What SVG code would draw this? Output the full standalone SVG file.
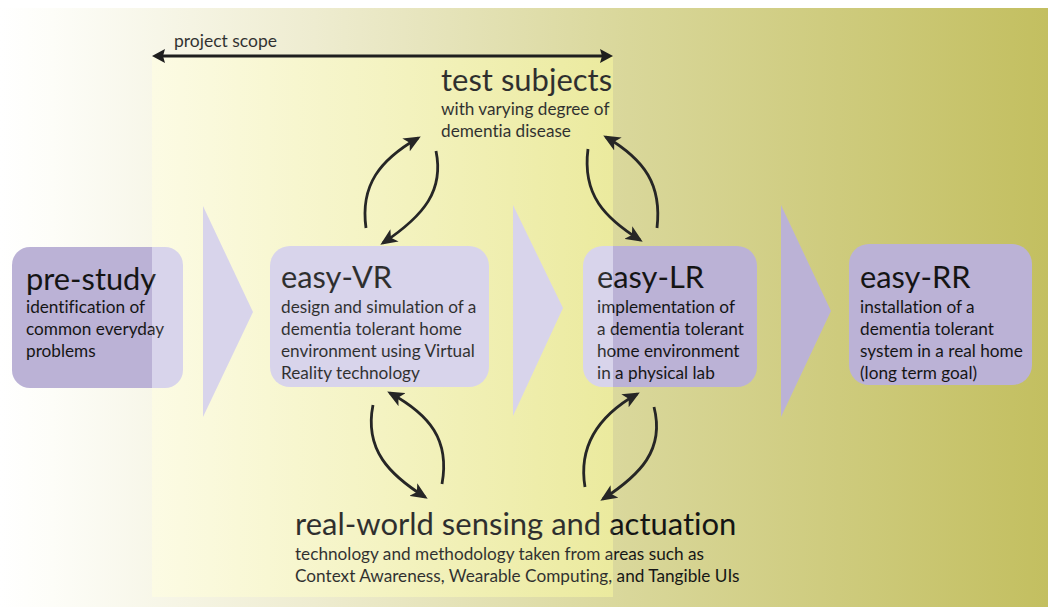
<svg xmlns="http://www.w3.org/2000/svg" width="1048" height="607" viewBox="0 0 1048 607">
<defs>
<style>
text{font-family:Lato,"Liberation Sans",sans-serif;fill:url(#txt);font-variant-ligatures:none}
.title{font-size:30.8px}
.big{font-size:31px}
.body{font-size:17.2px}
.small{font-size:17.5px}
.box{fill:url(#purp)}
.arr{fill:none;stroke:#262626;stroke-width:2.8;marker-end:url(#ah)}
</style>
<linearGradient id="bg" x1="0" y1="0" x2="1048" y2="0" gradientUnits="userSpaceOnUse">
<stop offset="0" stop-color="#ffffff"/>
<stop offset="0.05" stop-color="#fdfdf8"/>
<stop offset="0.3" stop-color="#eeecd0"/>
<stop offset="0.6" stop-color="#d9d79a"/>
<stop offset="1" stop-color="#c3bf60"/>
</linearGradient>
<linearGradient id="ov" x1="152" y1="0" x2="613" y2="0" gradientUnits="userSpaceOnUse">
<stop offset="0" stop-color="#fcfbe4"/>
<stop offset="0.5" stop-color="#f4f3c2"/>
<stop offset="1" stop-color="#ebea9e"/>
</linearGradient>
<linearGradient id="purp" x1="0" y1="0" x2="1048" y2="0" gradientUnits="userSpaceOnUse">
<stop offset="0.145" stop-color="#bbb2d6"/>
<stop offset="0.145" stop-color="#d8d4eb"/>
<stop offset="0.585" stop-color="#d8d4eb"/>
<stop offset="0.585" stop-color="#bbb2d6"/>
</linearGradient>
<linearGradient id="txt" x1="0" y1="0" x2="1048" y2="0" gradientUnits="userSpaceOnUse">
<stop offset="0.145" stop-color="#141414"/>
<stop offset="0.145" stop-color="#2e2e2e"/>
<stop offset="0.585" stop-color="#2e2e2e"/>
<stop offset="0.585" stop-color="#141414"/>
</linearGradient>
<marker id="ah" viewBox="0 0 16 14" refX="13" refY="7" markerWidth="17" markerHeight="15" markerUnits="userSpaceOnUse" orient="auto">
<path d="M0,0 L16,7 L0,14 L4,7 z" fill="#262626"/>
</marker>
</defs>

<g id="background">
<rect x="0" y="8" width="1048" height="599" fill="url(#bg)"/>
<rect x="152" y="57" width="461" height="540" fill="url(#ov)"/>
</g>

<g id="chevrons">
<polygon class="box" points="203,206 253,312 203,417"/>
<polygon class="box" points="513,205 563,308 513,416"/>
<polygon class="box" points="781,205 831,311 781,417"/>
</g>

<g id="project-scope">
<line x1="160" y1="56" x2="605" y2="56" stroke="#1e1e1e" stroke-width="3"/>
<polygon points="152,56 165,49 163,56 165,63" fill="#1e1e1e"/>
<polygon points="613,56 600,49 602,56 600,63" fill="#1e1e1e"/>
<text class="small" x="174" y="47">project scope</text>
</g>

<g id="pre-study">
<rect class="box" x="12" y="247" width="171" height="141" rx="18"/>
<text class="title" x="26" y="290">pre-study</text>
<text class="body" x="26" y="313">identification of</text>
<text class="body" x="26" y="335">common everyday</text>
<text class="body" x="26" y="357">problems</text>
</g>

<g id="easy-VR">
<rect class="box" x="270" y="246" width="219" height="141" rx="20"/>
<text class="title" x="281" y="288">easy-VR</text>
<text class="body" x="281" y="313">design and simulation of a</text>
<text class="body" x="281" y="335">dementia tolerant home</text>
<text class="body" x="281" y="357">environment using Virtual</text>
<text class="body" x="281" y="379">Reality technology</text>
</g>

<g id="easy-LR">
<rect class="box" x="583" y="246" width="174" height="141" rx="20"/>
<text class="title" x="597" y="288">easy-LR</text>
<text class="body" x="597" y="313">implementation of</text>
<text class="body" x="597" y="335">a dementia tolerant</text>
<text class="body" x="597" y="357">home environment</text>
<text class="body" x="597" y="379">in a physical lab</text>
</g>

<g id="easy-RR">
<rect class="box" x="849" y="244" width="183" height="141" rx="20"/>
<text class="title" x="860" y="288">easy-RR</text>
<text class="body" x="860" y="313">installation of a</text>
<text class="body" x="860" y="335">dementia tolerant</text>
<text class="body" x="860" y="357">system in a real home</text>
<text class="body" x="860" y="379">(long term goal)</text>
</g>

<g id="test-subjects">
<text class="big" x="441" y="91">test subjects</text>
<text class="body" x="441" y="115">with varying degree of</text>
<text class="body" x="441" y="137">dementia disease</text>
</g>

<g id="real-world">
<text class="big" x="295" y="535">real-world sensing and actuation</text>
<text class="body" x="295" y="560">technology and methodology taken from areas such as</text>
<text class="body" x="295" y="582">Context Awareness, Wearable Computing, and Tangible UIs</text>
</g>

<g id="connectors">
<path class="arr" d="M366,228 C360,185 380,160 418,138"/>
<path class="arr" d="M436,151 C444,190 425,215 383,243"/>
<path class="arr" d="M588,149 C582,195 605,218 640,240"/>
<path class="arr" d="M657,228 C662,185 645,160 606,137"/>
<path class="arr" d="M373,405 C364,450 390,475 425,497"/>
<path class="arr" d="M442,484 C450,440 430,415 390,393"/>
<path class="arr" d="M585,487 C578,445 600,415 637,394"/>
<path class="arr" d="M654,407 C665,450 640,475 603,499"/>
</g>
</svg>
